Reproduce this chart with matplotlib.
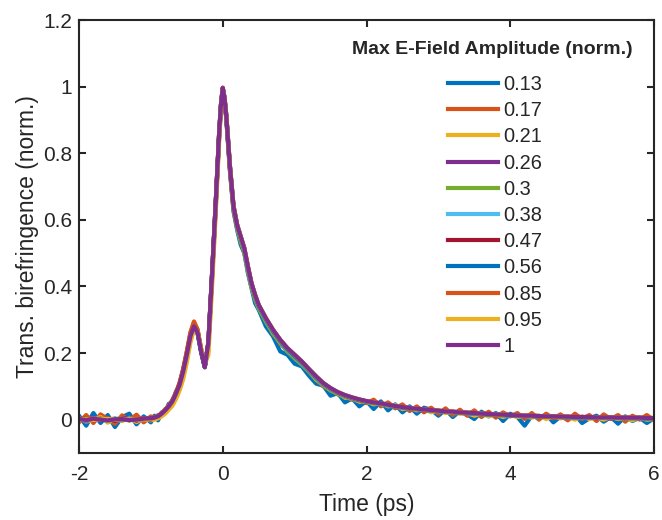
# transient birefringence traces for several field amplitudes
import matplotlib.pyplot as plt
from matplotlib.ticker import FuncFormatter

time_ps = [-2.0, -1.9, -1.8, -1.7, -1.6, -1.5, -1.4, -1.3, -1.2, -1.1, -1.0,
           -0.95, -0.9, -0.85, -0.8, -0.75, -0.7, -0.65, -0.6, -0.55, -0.5,
           -0.45, -0.4, -0.35, -0.3, -0.25, -0.2, -0.15, -0.1, -0.05, -0.025,
           0.0, 0.025, 0.05, 0.1, 0.15, 0.2, 0.25, 0.3, 0.35, 0.4, 0.45, 0.5,
           0.6, 0.7, 0.8, 0.9, 1.0, 1.1, 1.2, 1.3, 1.4, 1.5, 1.6, 1.7, 1.8, 1.9, 2.0,
           2.1, 2.2, 2.3, 2.4, 2.5, 2.6, 2.7, 2.8, 2.9, 3.0,
           3.1, 3.2, 3.3, 3.4, 3.5, 3.6, 3.7, 3.8, 3.9, 4.0,
           4.1, 4.2, 4.3, 4.4, 4.5, 4.6, 4.7, 4.8, 4.9, 5.0,
           5.1, 5.2, 5.3, 5.4, 5.5, 5.6, 5.7, 5.8, 5.9, 6.0]

amp_labels = ['0.13', '0.17', '0.21', '0.26', '0.3', '0.38', '0.47',
              '0.56', '0.85', '0.95', '1']

colors = ['#0072BD', '#D95319', '#EDB120', '#7E2F8E', '#77AC30', '#4DBEEE',
          '#A2142F', '#0072BD', '#D95319', '#EDB120', '#7E2F8E']

trace_013 = [0.012, -0.018, 0.020, -0.010, 0.014, -0.022, 0.008, 0.018, -0.014, 0.010, -0.008,
             0.012, -0.002, 0.022, 0.020, 0.048, 0.050, 0.085, 0.100, 0.150, 0.190,
             0.255, 0.282, 0.258, 0.200, 0.160, 0.225, 0.425, 0.630, 0.850, 0.935,
             0.985, 0.955, 0.900, 0.745, 0.625, 0.570, 0.525, 0.500, 0.440, 0.395, 0.350, 0.330,
             0.280, 0.250, 0.205, 0.195, 0.168, 0.160, 0.132, 0.108, 0.102, 0.072, 0.080, 0.052, 0.064, 0.040, 0.056,
             0.032, 0.055, 0.028, 0.046, 0.022, 0.040, 0.018, 0.036, 0.030, 0.012,
             0.030, 0.008, 0.026, 0.016, 0.002, 0.024, 0.010, 0.020, -0.004, 0.018,
             0.008, -0.018, 0.012, 0.004, 0.016, -0.008, 0.010, 0.000, 0.014, -0.010,
             0.004, 0.012, -0.006, 0.008, -0.012, 0.010, -0.004, 0.006, -0.010, 0.004]

trace_017 = [-0.008, 0.014, -0.010, 0.016, 0.002, -0.012, 0.013, -0.002, 0.015, -0.008, 0.010,
             0.004, 0.014, 0.016, 0.032, 0.038, 0.060, 0.080, 0.112, 0.152, 0.205,
             0.262, 0.295, 0.270, 0.210, 0.160, 0.228, 0.428, 0.638, 0.855, 0.940,
             0.990, 0.960, 0.905, 0.752, 0.632, 0.578, 0.538, 0.505, 0.452, 0.400, 0.362, 0.338,
             0.296, 0.262, 0.228, 0.210, 0.185, 0.170, 0.145, 0.122, 0.100, 0.090, 0.076, 0.070, 0.060, 0.058, 0.050,
             0.060, 0.040, 0.052, 0.034, 0.046, 0.026, 0.040, 0.022, 0.036, 0.018,
             0.034, 0.014, 0.030, 0.012, 0.028, 0.008, 0.024, 0.006, 0.022, 0.010,
             0.020, 0.002, 0.020, 0.000, 0.018, 0.004, 0.016, -0.002, 0.018, 0.002,
             0.014, -0.004, 0.016, 0.002, 0.014, -0.006, 0.012, 0.000, 0.014, -0.002]

trace_021 = [0.005, -0.006, 0.000, 0.008, -0.009, 0.003, -0.004, 0.006, -0.007, 0.002, -0.002,
             0.000, 0.004, 0.010, 0.018, 0.030, 0.042, 0.062, 0.088, 0.122, 0.172,
             0.232, 0.272, 0.265, 0.215, 0.165, 0.195, 0.395, 0.610, 0.835, 0.930,
             0.985, 0.962, 0.915, 0.758, 0.635, 0.580, 0.540, 0.508, 0.450, 0.402, 0.365, 0.336,
             0.298, 0.258, 0.232, 0.205, 0.188, 0.166, 0.146, 0.120, 0.104, 0.088, 0.080, 0.066, 0.064, 0.054, 0.054,
             0.046, 0.050, 0.040, 0.044, 0.032, 0.036, 0.028, 0.032, 0.022, 0.028,
             0.020, 0.022, 0.018, 0.020, 0.012, 0.018, 0.010, 0.016, 0.008, 0.014,
             0.008, 0.010, 0.006, 0.012, 0.002, 0.010, 0.004, 0.008, 0.000, 0.010,
             0.002, 0.006, 0.000, 0.008, 0.002, 0.004, -0.002, 0.006, 0.000, 0.002]

trace_026 = [0.004, -0.005, 0.006, -0.002, 0.005, -0.004, 0.003, 0.006, -0.003, 0.004, 0.000,
             0.008, 0.008, 0.020, 0.026, 0.044, 0.052, 0.082, 0.102, 0.148, 0.192,
             0.252, 0.284, 0.262, 0.204, 0.157, 0.228, 0.428, 0.636, 0.856, 0.940,
             0.992, 0.962, 0.906, 0.755, 0.633, 0.578, 0.540, 0.506, 0.452, 0.402, 0.366, 0.338,
             0.296, 0.262, 0.232, 0.207, 0.186, 0.168, 0.146, 0.124, 0.104, 0.090, 0.078, 0.070, 0.062, 0.058, 0.052,
             0.050, 0.045, 0.043, 0.038, 0.037, 0.032, 0.032, 0.028, 0.028, 0.024,
             0.024, 0.021, 0.021, 0.018, 0.019, 0.015, 0.016, 0.013, 0.014, 0.011,
             0.012, 0.009, 0.011, 0.008, 0.009, 0.007, 0.008, 0.006, 0.008, 0.005,
             0.007, 0.004, 0.006, 0.004, 0.006, 0.003, 0.005, 0.003, 0.004, 0.003]

trace_030 = [-0.003, 0.004, -0.002, 0.005, -0.004, 0.002, 0.004, -0.003, 0.003, -0.001, 0.005,
             0.005, 0.012, 0.017, 0.030, 0.041, 0.058, 0.080, 0.108, 0.150, 0.200,
             0.258, 0.290, 0.268, 0.208, 0.160, 0.232, 0.432, 0.640, 0.858, 0.942,
             0.993, 0.962, 0.906, 0.752, 0.630, 0.575, 0.535, 0.502, 0.448, 0.398, 0.362, 0.334,
             0.294, 0.260, 0.230, 0.205, 0.184, 0.166, 0.144, 0.122, 0.103, 0.089, 0.077, 0.069, 0.062, 0.057, 0.052,
             0.049, 0.046, 0.042, 0.039, 0.036, 0.033, 0.031, 0.029, 0.027, 0.025,
             0.023, 0.022, 0.020, 0.019, 0.018, 0.016, 0.015, 0.014, 0.013, 0.012,
             0.011, 0.011, 0.010, 0.009, 0.009, 0.008, 0.008, 0.007, 0.007, 0.006,
             0.006, 0.006, 0.005, 0.005, 0.005, 0.004, 0.004, 0.004, 0.004, 0.003]

trace_038 = [0.002, -0.003, 0.004, 0.001, -0.003, 0.003, -0.001, 0.004, 0.000, 0.002, 0.003,
             0.007, 0.011, 0.019, 0.029, 0.042, 0.057, 0.080, 0.106, 0.148, 0.198,
             0.254, 0.286, 0.266, 0.206, 0.158, 0.230, 0.430, 0.640, 0.860, 0.945,
             0.996, 0.967, 0.912, 0.762, 0.640, 0.582, 0.545, 0.510, 0.455, 0.405, 0.370, 0.340,
             0.300, 0.265, 0.235, 0.210, 0.190, 0.170, 0.148, 0.126, 0.106, 0.092, 0.080, 0.071, 0.064, 0.058, 0.054,
             0.050, 0.047, 0.043, 0.040, 0.037, 0.034, 0.032, 0.030, 0.028, 0.026,
             0.024, 0.023, 0.021, 0.020, 0.019, 0.017, 0.016, 0.015, 0.014, 0.013,
             0.012, 0.011, 0.011, 0.010, 0.009, 0.009, 0.008, 0.008, 0.007, 0.007,
             0.007, 0.006, 0.006, 0.006, 0.005, 0.005, 0.005, 0.005, 0.004, 0.004]

trace_047 = [0.001, 0.003, -0.002, 0.002, 0.000, -0.002, 0.003, 0.001, -0.001, 0.002, 0.003,
             0.006, 0.010, 0.018, 0.028, 0.040, 0.056, 0.079, 0.106, 0.147, 0.197,
             0.252, 0.282, 0.264, 0.206, 0.159, 0.232, 0.432, 0.642, 0.862, 0.947,
             0.997, 0.968, 0.912, 0.762, 0.642, 0.586, 0.550, 0.515, 0.460, 0.410, 0.374, 0.344,
             0.304, 0.269, 0.239, 0.214, 0.194, 0.174, 0.151, 0.129, 0.109, 0.094, 0.082, 0.073, 0.066, 0.060, 0.055,
             0.052, 0.049, 0.045, 0.041, 0.038, 0.035, 0.033, 0.031, 0.029, 0.027,
             0.025, 0.024, 0.022, 0.021, 0.020, 0.018, 0.017, 0.016, 0.015, 0.014,
             0.013, 0.012, 0.012, 0.011, 0.010, 0.010, 0.009, 0.009, 0.008, 0.008,
             0.008, 0.007, 0.007, 0.007, 0.006, 0.006, 0.006, 0.006, 0.005, 0.005]

trace_056 = [0.003, 0.000, 0.002, -0.002, 0.001, 0.003, -0.001, 0.002, 0.001, 0.002, 0.004,
             0.006, 0.010, 0.018, 0.028, 0.040, 0.055, 0.078, 0.105, 0.146, 0.196,
             0.250, 0.280, 0.262, 0.205, 0.158, 0.230, 0.430, 0.640, 0.860, 0.945,
             0.995, 0.963, 0.908, 0.758, 0.638, 0.582, 0.546, 0.511, 0.456, 0.406, 0.371, 0.341,
             0.301, 0.266, 0.236, 0.211, 0.191, 0.171, 0.149, 0.127, 0.107, 0.093, 0.081, 0.072, 0.065, 0.059, 0.054,
             0.051, 0.048, 0.044, 0.040, 0.037, 0.034, 0.032, 0.030, 0.028, 0.026,
             0.024, 0.023, 0.021, 0.020, 0.019, 0.017, 0.016, 0.015, 0.014, 0.013,
             0.012, 0.011, 0.011, 0.010, 0.009, 0.009, 0.008, 0.008, 0.007, 0.007,
             0.007, 0.006, 0.006, 0.006, 0.005, 0.005, 0.005, 0.005, 0.004, 0.004]

trace_085 = [0.001, 0.002, 0.004, -0.001, 0.002, 0.000, 0.003, 0.001, 0.002, 0.004, 0.003,
             0.007, 0.011, 0.019, 0.030, 0.042, 0.058, 0.082, 0.110, 0.152, 0.204,
             0.260, 0.292, 0.270, 0.210, 0.160, 0.232, 0.432, 0.642, 0.860, 0.945,
             0.995, 0.964, 0.910, 0.760, 0.640, 0.584, 0.549, 0.514, 0.459, 0.409, 0.374, 0.344,
             0.304, 0.269, 0.239, 0.214, 0.194, 0.174, 0.151, 0.129, 0.109, 0.094, 0.082, 0.073, 0.066, 0.060, 0.055,
             0.052, 0.049, 0.045, 0.041, 0.038, 0.035, 0.033, 0.031, 0.029, 0.027,
             0.025, 0.024, 0.022, 0.021, 0.020, 0.018, 0.017, 0.016, 0.015, 0.014,
             0.013, 0.012, 0.012, 0.011, 0.010, 0.010, 0.009, 0.009, 0.008, 0.008,
             0.008, 0.007, 0.007, 0.007, 0.006, 0.006, 0.006, 0.006, 0.005, 0.005]

trace_095 = [0.000, 0.002, -0.001, 0.001, 0.003, 0.000, 0.001, 0.002, -0.001, 0.001, 0.002,
             0.004, 0.007, 0.013, 0.021, 0.032, 0.046, 0.066, 0.092, 0.128, 0.178,
             0.236, 0.274, 0.264, 0.212, 0.164, 0.205, 0.405, 0.620, 0.845, 0.938,
             0.993, 0.965, 0.912, 0.760, 0.640, 0.585, 0.550, 0.515, 0.460, 0.410, 0.375, 0.345,
             0.305, 0.270, 0.240, 0.215, 0.195, 0.175, 0.152, 0.130, 0.110, 0.095, 0.083, 0.074, 0.067, 0.061, 0.056,
             0.052, 0.049, 0.045, 0.041, 0.038, 0.035, 0.033, 0.031, 0.029, 0.027,
             0.025, 0.024, 0.022, 0.021, 0.020, 0.018, 0.017, 0.016, 0.015, 0.014,
             0.013, 0.012, 0.012, 0.011, 0.010, 0.010, 0.009, 0.009, 0.008, 0.008,
             0.008, 0.007, 0.007, 0.007, 0.006, 0.006, 0.006, 0.006, 0.005, 0.005]

trace_100 = [0.002, -0.001, 0.003, 0.000, -0.002, 0.001, 0.002, -0.001, 0.000, 0.003, 0.004,
             0.006, 0.010, 0.018, 0.028, 0.040, 0.055, 0.078, 0.105, 0.145, 0.195,
             0.250, 0.280, 0.262, 0.205, 0.158, 0.230, 0.430, 0.640, 0.860, 0.945,
             0.995, 0.965, 0.910, 0.760, 0.640, 0.585, 0.550, 0.515, 0.460, 0.410, 0.375, 0.345,
             0.305, 0.270, 0.240, 0.215, 0.195, 0.175, 0.152, 0.130, 0.110, 0.095, 0.083, 0.074, 0.067, 0.061, 0.056,
             0.052, 0.049, 0.045, 0.041, 0.038, 0.035, 0.033, 0.031, 0.029, 0.027,
             0.025, 0.024, 0.022, 0.021, 0.020, 0.018, 0.017, 0.016, 0.015, 0.014,
             0.013, 0.012, 0.012, 0.011, 0.010, 0.010, 0.009, 0.009, 0.008, 0.008,
             0.008, 0.007, 0.007, 0.007, 0.006, 0.006, 0.006, 0.006, 0.005, 0.005]

traces = [trace_013, trace_017, trace_021, trace_026, trace_030, trace_038,
          trace_047, trace_056, trace_085, trace_095, trace_100]

plt.rcParams['font.family'] = ['Liberation Sans', 'DejaVu Sans']
dark = '#262626'

fig = plt.figure(figsize=(6.62, 5.2), dpi=100)
ax = fig.add_axes([79 / 662, 67 / 520, 575 / 662, 433 / 520])

for y, lab, c in zip(traces, amp_labels, colors):
    ax.plot(time_ps, y, color=c, lw=3, label=lab)

ax.set_xlim(-2, 6)
ax.set_ylim(-0.1, 1.2)
ax.set_xticks([-2, 0, 2, 4, 6])
ax.set_yticks([0, 0.2, 0.4, 0.6, 0.8, 1.0, 1.2])
fmt = FuncFormatter(lambda v, p: '%g' % v)
ax.xaxis.set_major_formatter(fmt)
ax.yaxis.set_major_formatter(fmt)
ax.tick_params(direction='in', length=5, width=1.5, top=True, right=True,
               labelsize=15, colors=dark)
ax.tick_params(axis='x', pad=9)
ax.tick_params(axis='y', pad=5)
for s in ax.spines.values():
    s.set_linewidth(1.5)
    s.set_color(dark)

ax.set_xlabel('Time (ps)', fontsize=16.5, color=dark, labelpad=6)
ax.set_ylabel('Trans. birefringence (norm.)', fontsize=16.5, color=dark, labelpad=3)

# legend entries, title drawn separately so the gap matches
leg = ax.legend(loc='upper center', bbox_to_anchor=(495 / 662, 1 - 65 / 520),
                bbox_transform=fig.transFigure, frameon=False, fontsize=14.4,
                handlelength=2.5, handletextpad=0.3, labelspacing=0.36,
                borderpad=0)
for txt in leg.get_texts():
    txt.set_color(dark)
fig.text(492 / 662, 1 - 50 / 520, 'Max E-Field Amplitude (norm.)',
         ha='center', va='center', fontsize=14, fontweight='bold', color=dark)

fig.savefig('out.png', dpi=100)
